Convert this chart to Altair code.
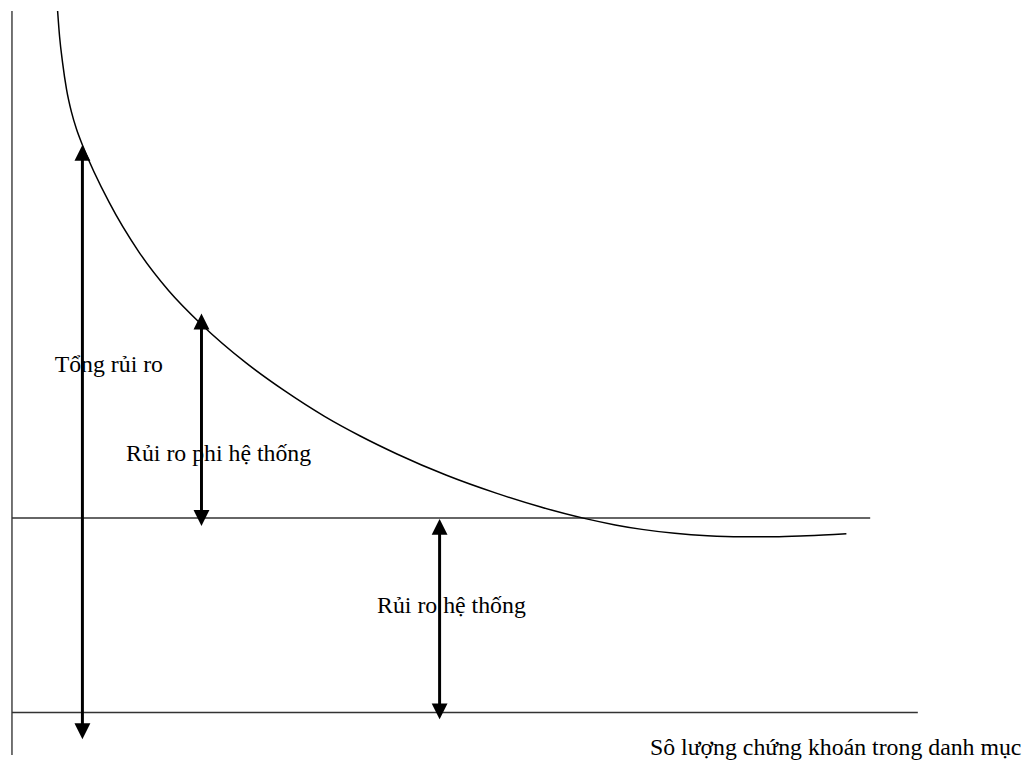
import altair as alt
import pandas as pd

# Units: x = distance right of the vertical axis, y = risk above the baseline
curve_x = [46, 48, 51, 55, 60, 65, 71, 98, 128, 158, 191, 235, 275, 315,
           351, 388, 438, 488, 533, 578, 608, 635, 668, 701, 735, 768, 801, 841]
curve_y = [707, 681, 655, 628, 605, 588, 572, 514, 464, 425, 391, 353, 324, 298.4,
           278.6, 260.5, 239, 221, 207, 195.3, 189, 184.5, 180.5, 178, 177, 177, 178, 180]

systematic_level = 196
baseline_level = 0
hline_levels = [systematic_level, baseline_level]
hline_ends = [865, 913]

axis_x = 0
axis_y = [-43, 707]

arrow_x = [71, 191, 431]
arrow_low = [-27, 188, -7]
arrow_high = [572, 402, 195]

label_text = ["Tổng rủi ro", "Rủi ro phi hệ thống", "Rủi ro hệ thống",
              "Sô lượng chứng khoán trong danh mục"]
label_x = [43, 115, 368, 643]
label_y = [343, 253, 100, -43]

HEAD = 16

xs = alt.Scale(domain=[-4, 1018], nice=False, zero=False)
ys = alt.Scale(domain=[-48, 707], nice=False, zero=False)

curve_df = pd.DataFrame({"x": curve_x, "y": curve_y})
hl_df = pd.DataFrame({"x": [axis_x] * 2, "x2": hline_ends, "y": hline_levels})
ax_df = pd.DataFrame({"x": [axis_x], "y": [axis_y[0]], "y2": [axis_y[1]]})
shaft_df = pd.DataFrame({"x": arrow_x,
                         "y": [v + HEAD / 2 for v in arrow_low],
                         "y2": [v - HEAD / 2 for v in arrow_high]})
up_df = pd.DataFrame({"x": arrow_x, "y": arrow_high})
down_df = pd.DataFrame({"x": arrow_x, "y": arrow_low})
lab_df = pd.DataFrame({"t": label_text, "x": label_x, "y": label_y})

X = lambda f: alt.X(f, scale=xs, axis=None)
Y = lambda f: alt.Y(f, scale=ys, axis=None)

axis_line = alt.Chart(ax_df).mark_rule(color="#444", strokeWidth=1.5).encode(
    x=X("x:Q"), y=Y("y:Q"), y2="y2:Q")
hlines = alt.Chart(hl_df).mark_rule(color="#333", strokeWidth=1.5).encode(
    x=X("x:Q"), x2="x2:Q", y=Y("y:Q"))
curve = alt.Chart(curve_df).mark_line(color="black", strokeWidth=1.5,
                                      interpolate="monotone").encode(
    x=X("x:Q"), y=Y("y:Q"))
shafts = alt.Chart(shaft_df).mark_rule(color="black", strokeWidth=3).encode(
    x=X("x:Q"), y=Y("y:Q"), y2="y2:Q")
up_heads = alt.Chart(up_df).mark_point(
    shape="M0,0L1,2L-1,2Z", filled=True, color="black", size=HEAD * HEAD,
    opacity=1, strokeWidth=0).encode(x=X("x:Q"), y=Y("y:Q"))
down_heads = alt.Chart(down_df).mark_point(
    shape="M0,0L1,-2L-1,-2Z", filled=True, color="black", size=HEAD * HEAD,
    opacity=1, strokeWidth=0).encode(x=X("x:Q"), y=Y("y:Q"))
labels = alt.Chart(lab_df).mark_text(
    align="left", baseline="alphabetic", font="Liberation Serif",
    fontSize=24, color="black").encode(x=X("x:Q"), y=Y("y:Q"), text="t:N")

chart = alt.layer(axis_line, hlines, curve, shafts, up_heads, down_heads, labels).properties(
    width=1022, height=755, autosize=alt.AutoSizeParams(type="none"), padding=0
).configure_view(stroke=None)

chart.save("out.html", embed_options={"renderer": "svg", "actions": False})
